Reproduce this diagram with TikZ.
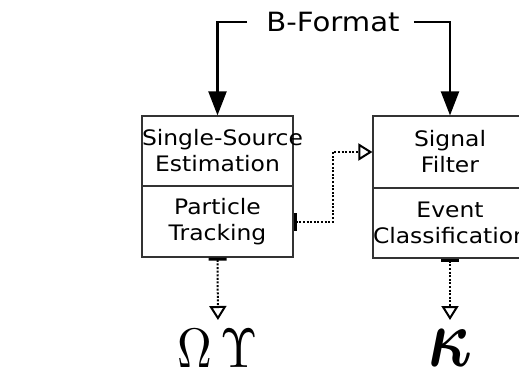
\documentclass[tikz,border=0pt]{standalone}
\usepackage{fontspec}
\usepackage{amsmath}
\usepackage{bm}
\setmainfont{DejaVu Sans}[FakeStretch=1.1]
\usetikzlibrary{arrows.meta,calc}
\tikzset{
  box/.style={draw=black!80, line width=1.2pt, inner xsep=0pt, inner ysep=0pt,
    text width=#1, align=center,
    font=\fontsize{21.3}{26}\selectfont},
  solidarrow/.style={line width=2.2pt, -{Triangle[length=24pt,width=18pt]}},
  dotconn/.style={line width=2pt, dash pattern=on 2pt off 1.6pt,
    {Bar[width=18pt,line width=3pt]}-{Triangle[open,length=14pt,width=17pt,line width=2pt]}},
}
\begin{document}
\begin{tikzpicture}[x=1pt,y=-1pt]
\useasboundingbox (0,0) rectangle (519,370);
\clip (0,0) rectangle (519,370);
% boxes
\node[box=151pt, minimum width=151pt, minimum height=70pt] (lt) at (217.5,151) {\mbox{Single-Source}\\Estimation};
\node[box=151pt, minimum width=151pt, minimum height=71pt] (lb) at (217.5,221.5) {Particle\\Tracking};
\node[box=154pt, minimum width=154pt, minimum height=72pt] (rt) at (450,152) {Signal\\Filter};
\node[box=154pt, minimum width=154pt, minimum height=70pt] (rb) at (450,223) {Event\\\mbox{Classification}};
% B-Format
\node[inner sep=0pt, text height=19pt, text depth=0pt,
  font=\fontsize{26.5}{31}\selectfont] (bf) at (333,22) {B-Format};
\draw[solidarrow, shorten <=19pt] (bf.west) -| (lt.north);
\draw[solidarrow, shorten <=14pt] (bf.east) -| (rt.north);
% outputs
\node[inner sep=0pt, anchor=north] (om) at (218,329) {\resizebox{80pt}{38pt}{$\Omega\,\Upsilon$}};
\node[inner sep=0pt, anchor=north] (ka) at (450,329) {\resizebox{44pt}{37pt}{$\bm{\kappa}$}};
% dotted connectors
\draw[dotconn] (lb.east) -| ($(lb.east)!0.5!(rt.west)$) |- (rt.west);
\draw[dotconn, shorten >=9pt] (lb.south) -- (om.north);
\draw[dotconn, shorten >=9pt] (rb.south) -- (ka.north);
\end{tikzpicture}
\end{document}
